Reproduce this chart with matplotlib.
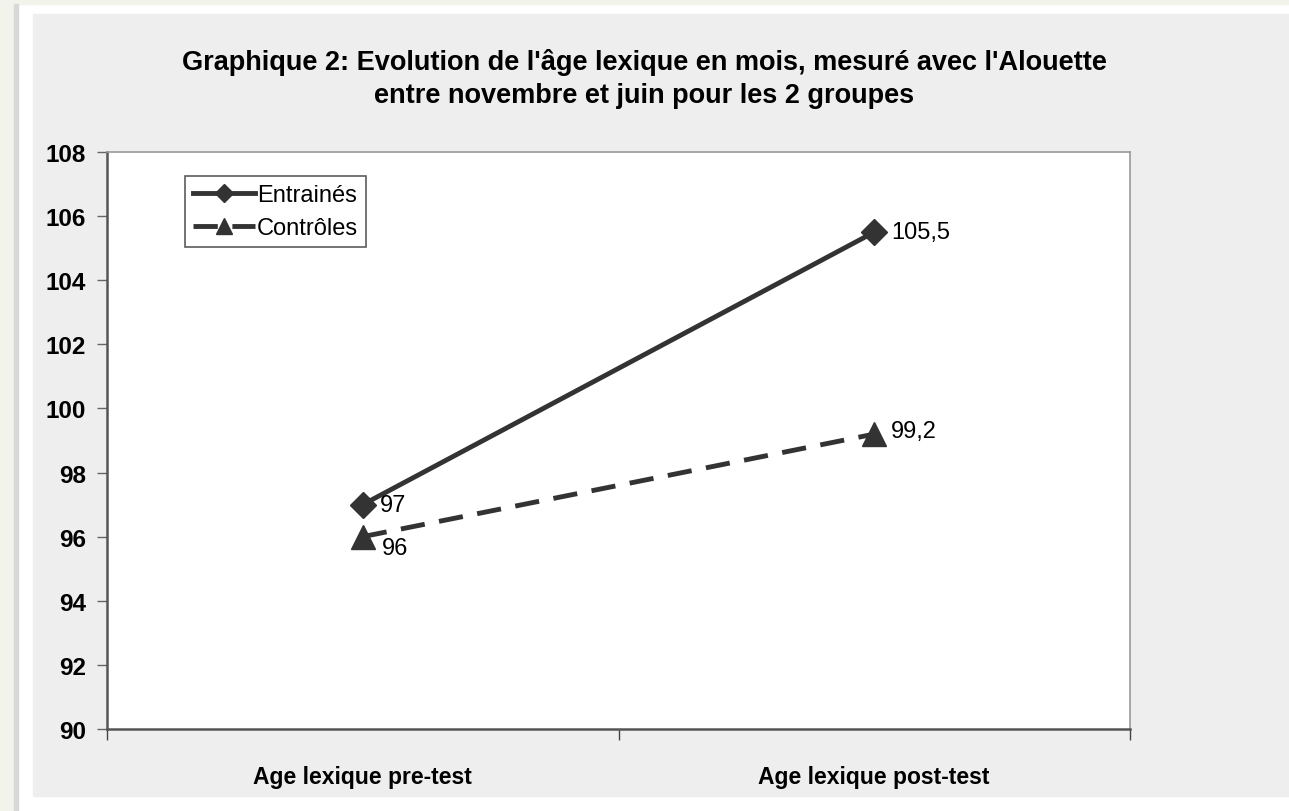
import numpy as np
import matplotlib.pyplot as plt
from matplotlib.patches import Rectangle

categories = ['Age lexique pre-test', 'Age lexique post-test']
entraines = [97, 105.5]
controles = [96, 99.2]
lab_entraines = ['97', '105,5']
lab_controles = ['96', '99,2']

plt.rcParams['font.family'] = ['Liberation Sans', 'DejaVu Sans']

fig = plt.figure(figsize=(12.89, 8.12), dpi=100)
fig.patch.set_facecolor('white')

# background frame / gray panel
fig.patches.append(Rectangle((0, 0), 14/1289, 1, transform=fig.transFigure, color='#f2f3ea', zorder=-3))
fig.patches.append(Rectangle((0, 1 - 5/812), 1, 5/812, transform=fig.transFigure, color='#f2f3ea', zorder=-3))
fig.patches.append(Rectangle((14/1289, 0), 4/1289, 1 - 5/812, transform=fig.transFigure, color='#d8d8d8', zorder=-2))
fig.patches.append(Rectangle((33/1289, 15/812), 1 - 33/1289, (797 - 15)/812,
                             transform=fig.transFigure, color='#eeeeee', zorder=-1))

ax = fig.add_axes([107/1289, 1 - 730/812, (1130 - 107)/1289, (730 - 153)/812])
ax.set_facecolor('white')

x = np.arange(len(categories))
col = '#333333'
ax.plot(x, entraines, color=col, lw=3.5, marker='D', ms=13, label='Entrainés', zorder=3)
ax.plot(x, controles, color=col, lw=3.5, ls=(0, (5, 3)), marker='^', ms=17, label='Contrôles', zorder=3)

for xi, v, t in zip(x, entraines, lab_entraines):
    ax.annotate(t, (xi, v), xytext=(12, 0), textcoords='offset points', va='center', ha='left', fontsize=17)
offs = [(14, -8), (12, 2)]
for xi, v, t, o in zip(x, controles, lab_controles, offs):
    ax.annotate(t, (xi, v), xytext=o, textcoords='offset points', va='center', ha='left', fontsize=17)

ax.set_xlim(-0.5, 1.5)
ax.set_ylim(90, 108)
ax.set_yticks(np.arange(90, 109, 2))
ax.set_xticks(x)
ax.set_xticklabels(categories, fontsize=16.5, fontweight='bold')
ax.set_xticks([-0.5, 0.5, 1.5], minor=True)
ax.tick_params(axis='x', which='major', length=0, pad=26)
ax.tick_params(axis='x', which='minor', length=8, width=1, color='#444444', direction='out')
ax.tick_params(axis='y', length=7, width=1, color='#666666', direction='out', pad=8)
for t in ax.get_yticklabels():
    t.set_fontsize(17.5)
    t.set_fontweight('bold')

for s in ['left', 'bottom']:
    ax.spines[s].set_color('#555555')
    ax.spines[s].set_linewidth(1.8)
for s in ['top', 'right']:
    ax.spines[s].set_color('#999999')
    ax.spines[s].set_linewidth(1.2)

leg = ax.legend(loc='upper left', bbox_to_anchor=(78/1023, 1 - 24/577), fontsize=17,
                frameon=True, fancybox=False, edgecolor='#333333', handlelength=2.6,
                handletextpad=0.1, borderpad=0.35, labelspacing=0.45, markerscale=0.7,
                borderaxespad=0)
leg.get_frame().set_linewidth(1.2)

fig.text(0.5, 1 - 63/812, "Graphique 2: Evolution de l'âge lexique en mois, mesuré avec l'Alouette",
         ha='center', va='center', fontsize=19.5, fontweight='bold')
fig.text(0.5, 1 - 96/812, "entre novembre et juin pour les 2 groupes",
         ha='center', va='center', fontsize=19.5, fontweight='bold')

fig.savefig('out.png', dpi=100)
